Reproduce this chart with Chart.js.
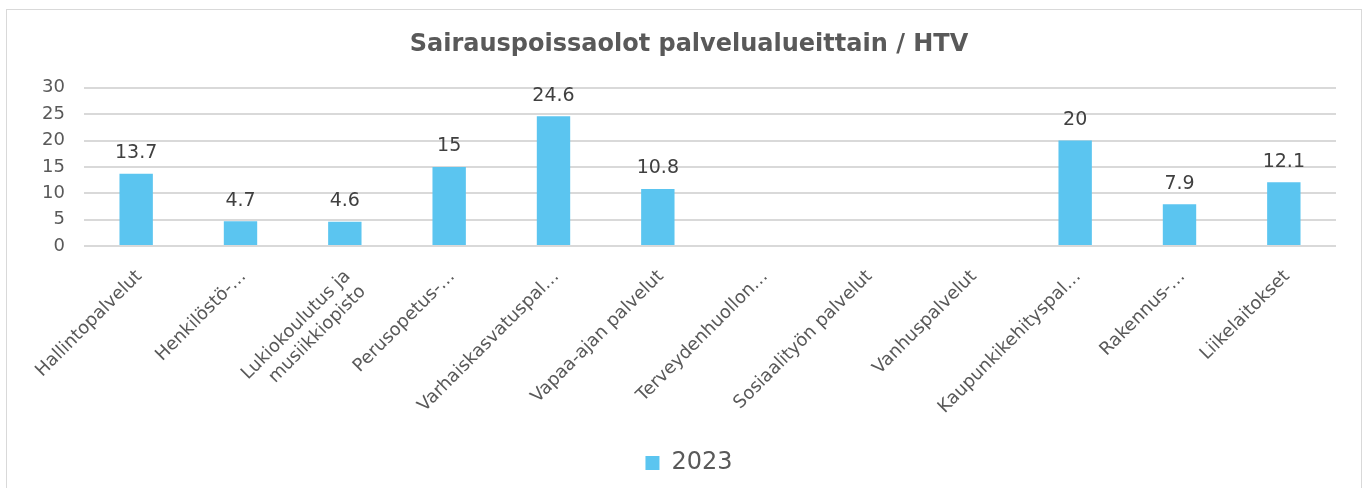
<!DOCTYPE html>
<html lang="fi">
<head>
    <meta charset="UTF-8">
    <title>Sairauspoissaolot palvelualueittain / HTV</title>
    <script src="https://cdn.jsdelivr.net/npm/chart.js"></script>
    <style>
        body {
            margin: 0;
            background: #ffffff;
        }
        .chart-box {
            position: absolute;
            left: 6px;
            top: 9px;
            width: 1354px;
            height: 478px;
            border: 1px solid #d9d9d9;
            background: #ffffff;
        }
    </style>
</head>
<body>
    <div class="chart-box">
        <canvas id="absenceChart" width="1354" height="478"></canvas>
    </div>

    <script>
        const categories = [
            'Hallintopalvelut',
            'Henkilöstö-…',
            ['Lukiokoulutus ja', 'musiikkiopisto'],
            'Perusopetus-…',
            'Varhaiskasvatuspal…',
            'Vapaa-ajan palvelut',
            'Terveydenhuollon…',
            'Sosiaalityön palvelut',
            'Vanhuspalvelut',
            'Kaupunkikehityspal…',
            'Rakennus-…',
            'Liikelaitokset'
        ];
        const values2023 = [13.7, 4.7, 4.6, 15, 24.6, 10.8, null, null, null, 20, 7.9, 12.1];
        const yTicks = [0, 5, 10, 15, 20, 25, 30];

        const font = 'DejaVu Sans, Verdana, sans-serif';

        // values above the bars
        const barValues = {
            id: 'barValues',
            afterDatasetsDraw(chart) {
                const ctx = chart.ctx;
                ctx.save();
                ctx.font = '19px ' + font;
                ctx.fillStyle = '#404040';
                ctx.textAlign = 'center';
                ctx.textBaseline = 'bottom';
                chart.getDatasetMeta(0).data.forEach((bar, i) => {
                    const v = values2023[i];
                    if (v === null) return;
                    ctx.fillText(String(v), bar.x, bar.y - 11);
                });
                ctx.restore();
            }
        };

        const ctx = document.getElementById('absenceChart').getContext('2d');
        const absenceChart = new Chart(ctx, {
            type: 'bar',
            data: {
                labels: categories,
                datasets: [{
                    label: '2023',
                    data: values2023,
                    backgroundColor: '#5bc5f0',
                    categoryPercentage: 1,
                    barPercentage: 0.32
                }]
            },
            options: {
                responsive: false,
                animation: false,
                layout: { padding: { left: 35, right: 25, top: 0, bottom: 3 } },
                plugins: {
                    title: {
                        display: true,
                        text: 'Sairauspoissaolot palvelualueittain / HTV',
                        color: '#595959',
                        font: { family: font, size: 24, weight: 'bold' },
                        padding: { top: 20, bottom: 29 }
                    },
                    legend: {
                        position: 'bottom',
                        labels: {
                            color: '#595959',
                            font: { family: font, size: 24 },
                            boxWidth: 14,
                            boxHeight: 14,
                            padding: 12
                        }
                    },
                    tooltip: { enabled: false }
                },
                scales: {
                    x: {
                        grid: { display: false },
                        border: { display: false },
                        ticks: {
                            color: '#595959',
                            font: { family: font, size: 18 },
                            minRotation: 45,
                            maxRotation: 45,
                            autoSkip: false,
                            labelOffset: 3,
                            padding: 12
                        },
                        afterFit(scale) { scale.height = 193; }
                    },
                    y: {
                        min: 0,
                        max: 30,
                        afterBuildTicks(scale) {
                            scale.ticks = yTicks.map(v => ({ value: v }));
                        },
                        grid: { color: '#d9d9d9', lineWidth: 2, drawTicks: false },
                        border: { display: false },
                        ticks: {
                            color: '#595959',
                            font: { family: font, size: 18 },
                            padding: 19
                        },
                        afterFit(scale) { scale.width = 42; }
                    }
                }
            },
            plugins: [barValues]
        });
    </script>
</body>
</html>
